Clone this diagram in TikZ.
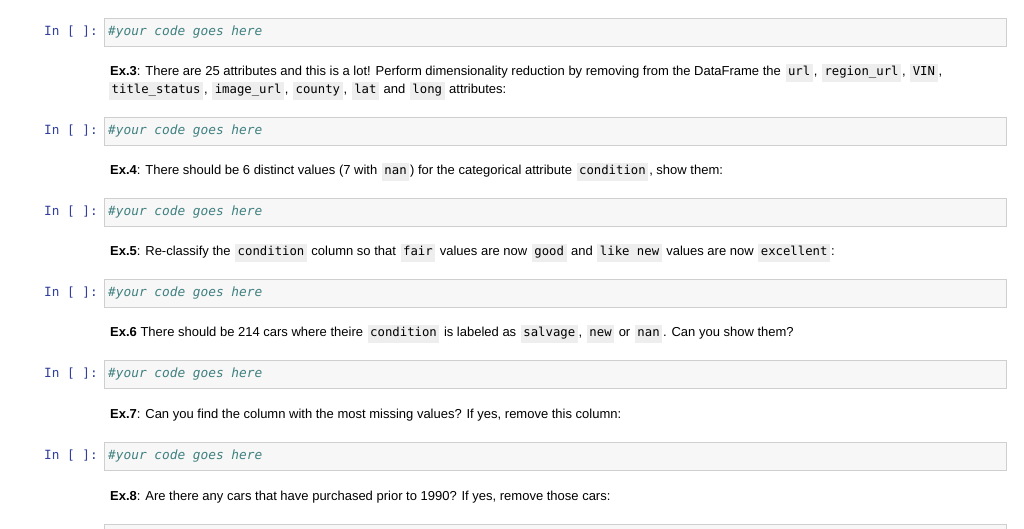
\documentclass[tikz,border=0pt]{standalone}
\usepackage{fontspec}
\setmainfont{Liberation Sans}
\setmonofont{DejaVu Sans Mono}
\definecolor{codebg}{HTML}{EEEEEE}
\definecolor{inblue}{HTML}{303F9F}
\definecolor{cmt}{HTML}{408080}
\definecolor{cellbd}{HTML}{CFCFCF}
\definecolor{cellbg}{HTML}{F7F7F7}
\newcommand\cd[1]{\hspace{1pt}{\setlength{\fboxsep}{2.5pt}\colorbox{codebg}{\ttfamily\fontsize{12.3}{13}\selectfont\strut #1}}\hspace{1pt}}
\begin{document}
\begin{tikzpicture}[x=1pt,y=-1pt,
  cell/.style={draw=cellbd,fill=cellbg,line width=0.6pt},
  prompt/.style={anchor=west,inner sep=0,text=inblue,font=\ttfamily\fontsize{12.7}{14}\selectfont},
  cmtt/.style={anchor=west,inner sep=0,text=cmt,font=\ttfamily\itshape\fontsize{12.8}{14}\selectfont},
  txt/.style={anchor=west,inner sep=0,font=\fontsize{13}{15}\selectfont}]
\useasboundingbox (0,0) rectangle (1024,529);
\foreach \y/\n in {32/a,131/b,212/c,293/d,374/e,456/f}{
  \draw[cell] (104,\y-14) rectangle (1006,\y+14);
  \node[prompt] (p\n) at (44,\y) {In [ ]:};
  \node[cmtt] (c\n) at (108,\y) {\#your code goes here};
}
\draw[cell] (104,524) rectangle (1006,545);
\node[txt] (t3a) at (110,73) {\textbf{Ex.3}: There are 25 attributes and this is a lot! Perform dimensionality reduction by removing from the DataFrame the \cd{url}, \cd{region\_url}, \cd{VIN},};
\node[txt] (t3b) at (108,91) {\cd{title\_status}, \cd{image\_url}, \cd{county}, \cd{lat} and \cd{long} attributes:};
\node[txt] (t4) at (110,172) {\textbf{Ex.4}: There should be 6 distinct values (7 with \cd{nan}) for the categorical attribute \cd{condition}, show them:};
\node[txt] (t5) at (110,253) {\textbf{Ex.5}: Re-classify the \cd{condition} column so that \cd{fair} values are now \cd{good} and \cd{like new} values are now \cd{excellent}:};
\node[txt] (t6) at (110,334) {\textbf{Ex.6} There should be 214 cars where theire \cd{condition} is labeled as \cd{salvage}, \cd{new} or \cd{nan}. Can you show them?};
\node[txt] (t7) at (110,415) {\textbf{Ex.7}: Can you find the column with the most missing values? If yes, remove this column:};
\node[txt] (t8) at (110,497) {\textbf{Ex.8}: Are there any cars that have purchased prior to 1990? If yes, remove those cars:};
\end{tikzpicture}
\end{document}
